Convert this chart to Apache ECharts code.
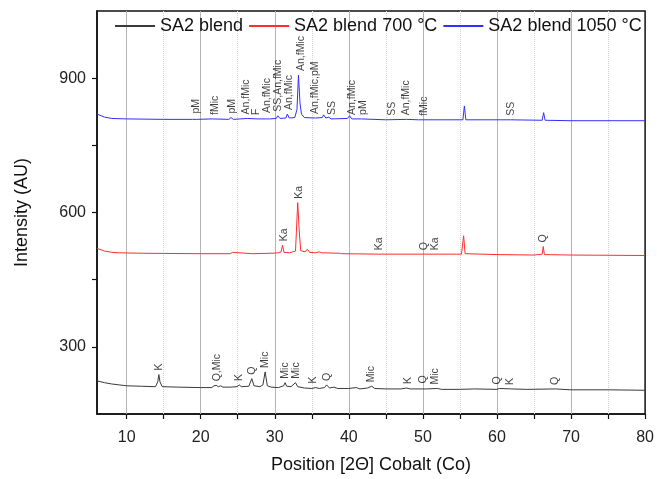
<!DOCTYPE html>
<html>
<head>
<meta charset="utf-8">
<script src="https://cdn.jsdelivr.net/npm/echarts@6/dist/echarts.min.js"></script>
<style>
  html, body { margin: 0; padding: 0; background: #fff; }
  #chart { width: 657px; height: 479px; }
</style>
</head>
<body>
<div id="chart"></div>
<script>
// XRD patterns, 2θ (Co radiation) vs intensity
const seriesNames = ['SA2 blend', 'SA2 blend 700 \u00B0C', 'SA2 blend 1050 \u00B0C'];

const rawBlend = [
  [6,224],[7,220],[8,217],[9,215],[10,213],[12,212],[13.9,211],[14.2,222],[14.35,238],[14.5,222],[14.8,211],
  [17,210],[20,209],[21.5,209],[21.8,213],[22.1,214],[22.4,211],[22.7,213],[23,210],[24,210],[24.9,211],
  [25.2,215],[25.5,211],[26.5,212],[26.9,229],[27.2,213],[28,211],[28.4,215],[28.7,244],[29.0,213],[29.5,210],
  [30.5,209],[31.2,213],[31.4,220],[31.6,212],[32.2,211],[32.8,220],[33.1,211],[34,208],[35,207],[35.5,209],
  [36,207],[36.7,209],[37,215],[37.4,208],[38,210],[38.5,207],[40,207],[41,209],[41.5,206],[42.5,208],
  [43.1,212],[43.5,207],[45,206],[47,206],[47.8,208],[48.3,206],[50,206],[50.2,209],[50.5,206],[52,207],
  [52.5,205],[55,205],[57,206],[60,205],[60.3,207],[62,206],[64,205],[67.9,206],[70,204],[75,204],[80,203]
];

const blend700 = [
  [6,520],[7,514],[8,511],[9,510],[12,509],[20,508],[24,508],[24.3,511],[24.5,508],[27,508],[29.5,509],
  [30.5,510],[30.85,512],[31.05,527],[31.25,511],[32,510],[32.8,514],[33.1,622],[33.3,560],[33.5,515],
  [34.1,512],[34.4,518],[34.7,511],[35.5,510],[36,512],[36.3,510],[38.7,509],[39,508],[44,507],[50,507],
  [55.2,507],[55.5,548],[55.7,508],[60,506],[65,505],[66.1,507],[66.25,524],[66.4,506],[70,505],[80,504]
];

const blend1050 = [
  [6,820],[7,813],[8,810],[10,809],[15,808],[18.9,808],[19.15,812],[19.4,808],[21.6,809],[23.8,808],
  [24.1,812],[24.4,808],[26.3,810],[27.6,809],[28.9,809],[29.1,813],[29.3,809],[30.2,810],[30.4,816],
  [30.7,810],[31.5,811],[31.7,820],[31.95,811],[32.7,812],[33.0,830],[33.2,907],[33.4,846],[33.6,820],
  [34,812],[35.5,811],[36.4,812],[36.6,818],[36.9,811],[37.3,813],[37.6,809],[39.8,810],[40.1,816],
  [40.4,809],[41.7,809],[45,807],[47.8,808],[49.4,807],[55.4,807],[55.6,838],[55.8,807],[61.8,807],
  [66.1,806],[66.3,823],[66.5,806],[70,805],[80,805]
];

// Phase labels: [2θ, text]
const phasesBlend = [
  [14.35,'K'],[22.15,'Q,Mic'],[25.2,'K'],[26.9,'Q'],[28.7,'Mic'],[31.4,'Mic'],[32.9,'Mic'],[35.2,'K'],
  [37.1,'Q'],[43.0,'Mic'],[48.0,'K'],[50.0,'Q'],[51.6,'Mic'],[60.0,'Q'],[61.8,'K'],[67.8,'Q']
];
const phases700 = [
  [31.3,'Ka'],[33.3,'Ka'],[44.05,'Ka'],[50.2,'Q'],[51.7,'Ka'],[66.2,'Q']
];
const phases1050 = [
  [19.4,'pM'],[22.0,'fMic'],[24.3,'pM'],[26.1,'An,fMic'],[27.5,'F'],[29.0,'An,fMic'],[30.5,'SS,An,fMic'],
  [31.9,'An,fMic'],[33.5,'An,fMic'],[35.5,'An,fMic,pM'],[37.7,'SS'],[40.5,'An,fMic'],[41.9,'pM'],
  [45.9,'SS'],[47.8,'An,fMic'],[50.1,'fMic'],[61.9,'SS']
];

// Axis ticks
const xMajorTicks = [10,20,30,40,50,60,70,80];
const xMinorTicks = [15,25,35,45,55,65,75];
const yTicks = [300,450,600,750,900];
const yTickLabels = [300,600,900];

const colors = ['#3a3a3a', '#ff2d2d', '#3030ff'];
const FONT = 'Liberation Sans, Arial, sans-serif';

// Highest point of a trace near a given 2θ, used to seat each phase label
function localMax(data, x, w) {
  let m = -Infinity;
  for (const p of data) if (Math.abs(p[0] - x) <= w) m = Math.max(m, p[1]);
  if (m === -Infinity) {
    for (let i = 1; i < data.length; i++) {
      if (data[i][0] >= x) {
        const a = data[i-1], b = data[i];
        m = a[1] + (b[1] - a[1]) * (x - a[0]) / (b[0] - a[0]);
        break;
      }
    }
  }
  return m;
}

function labelSeries(phases, data) {
  return {
    type: 'scatter',
    symbolSize: 0,
    silent: true,
    z: 4,
    data: phases.map(p => [p[0], localMax(data, p[0], 0.35), p[1]]),
    label: {
      show: true,
      position: 'top',
      distance: 4,
      rotate: 90,
      align: 'left',
      verticalAlign: 'middle',
      fontSize: 10.5,
      fontFamily: FONT,
      color: '#111',
      formatter: p => p.data[2]
    }
  };
}

const gridLines = xMajorTicks.filter(v => v < 80).map(v => ({
  xAxis: v, lineStyle: { color: '#b4b4b4', width: 1, type: 'solid' }
})).concat(xMinorTicks.map(v => ({
  xAxis: v, lineStyle: { color: '#d4d4d4', width: 1, type: 'dotted' }
})));

const chart = echarts.init(document.getElementById('chart'), null, { renderer: 'canvas' });

chart.setOption({
  animation: false,
  backgroundColor: '#ffffff',
  textStyle: { fontFamily: FONT },
  grid: {
    left: 97, right: 10, top: 11, bottom: 63,
    show: true, borderColor: '#111', borderWidth: 1.5, backgroundColor: 'transparent'
  },
  legend: {
    top: 12, left: 110,
    itemWidth: 40, itemHeight: 14, itemGap: 6,
    textStyle: { fontSize: 18, fontFamily: FONT, color: '#111' },
    data: seriesNames.map(n => ({ name: n, icon: 'path://M0,6 L40,6 L40,8 L0,8 Z' }))
  },
  xAxis: {
    type: 'value', min: 6, max: 80,
    name: 'Position [2\u0398] Cobalt (Co)',
    nameLocation: 'middle', nameGap: 42,
    nameTextStyle: { fontSize: 18, color: '#111', fontFamily: FONT },
    axisLine: { show: true, onZero: false, lineStyle: { color: '#111', width: 1.5 } },
    axisTick: { show: true, length: 5, customValues: xMajorTicks.concat(xMinorTicks), lineStyle: { color: '#111', width: 1.2 } },
    axisLabel: { customValues: xMajorTicks, fontSize: 16, color: '#222', margin: 16, fontFamily: FONT },
    splitLine: { show: false }
  },
  yAxis: {
    type: 'value', min: 150, max: 1050,
    name: 'Intensity (AU)',
    nameLocation: 'middle', nameGap: 66,
    nameTextStyle: { fontSize: 18, color: '#111', fontFamily: FONT },
    axisLine: { show: true, onZero: false, lineStyle: { color: '#111', width: 1.5 } },
    axisTick: { show: true, length: 5, customValues: yTicks, lineStyle: { color: '#111', width: 1.2 } },
    axisLabel: { customValues: yTickLabels, fontSize: 16, color: '#222', margin: 11, fontFamily: FONT },
    splitLine: { show: false }
  },
  series: [
    {
      name: seriesNames[0], type: 'line', data: rawBlend, symbol: 'none', z: 3,
      lineStyle: { color: colors[0], width: 1 }, itemStyle: { color: colors[0] },
      markLine: { silent: true, symbol: 'none', z: 1, label: { show: false }, data: gridLines }
    },
    {
      name: seriesNames[1], type: 'line', data: blend700, symbol: 'none', z: 3,
      lineStyle: { color: colors[1], width: 1 }, itemStyle: { color: colors[1] }
    },
    {
      name: seriesNames[2], type: 'line', data: blend1050, symbol: 'none', z: 3,
      lineStyle: { color: colors[2], width: 1 }, itemStyle: { color: colors[2] }
    },
    labelSeries(phasesBlend, rawBlend),
    labelSeries(phases700, blend700),
    labelSeries(phases1050, blend1050)
  ]
});
</script>
</body>
</html>
